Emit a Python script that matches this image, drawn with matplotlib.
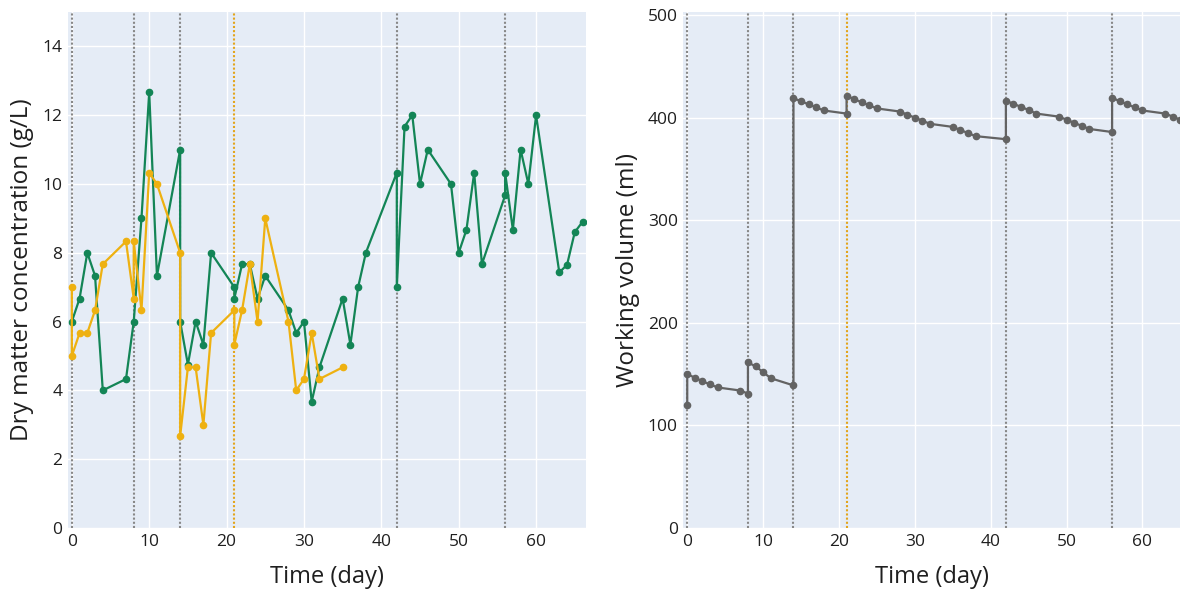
import matplotlib
matplotlib.use('Agg')
import matplotlib.pyplot as plt

# Данные: сухое вещество (два реактора) и рабочий объём
days_g = [0, 1, 2, 3, 4, 7, 8, 9, 10, 11, 14, 14, 15, 16, 17, 18, 21, 21, 22, 23,
          24, 25, 28, 29, 30, 31, 32, 35, 36, 37, 38, 42, 42, 43, 44, 45, 46, 49, 50, 51,
          52, 53, 56, 56, 57, 58, 59, 60, 63, 64, 65, 66]
vals_g = [6.0, 6.67, 8.0, 7.33, 4.0, 4.33, 6.0, 9.0, 12.67, 7.33, 11.0, 6.0, 4.75, 6.0, 5.33, 8.0, 7.0, 6.67, 7.67, 7.67,
          6.67, 7.33, 6.33, 5.67, 6.0, 3.67, 4.67, 6.67, 5.33, 7.0, 8.0, 10.33, 7.0, 11.67, 12.0, 10.0, 11.0, 10.0, 8.0, 8.67,
          10.33, 7.67, 9.67, 10.33, 8.67, 11.0, 10.0, 12.0, 7.43, 7.65, 8.6, 8.9]

days_y = [0, 0, 1, 2, 3, 4, 7, 8, 8, 9, 10, 11, 14, 14, 15, 16, 17, 18, 21, 21,
          22, 23, 24, 25, 28, 29, 30, 31, 32, 35]
vals_y = [7.0, 5.0, 5.67, 5.67, 6.33, 7.67, 8.33, 6.67, 8.33, 6.33, 10.33, 10.0, 8.0, 2.67, 4.67, 4.67, 3.0, 5.67, 6.33, 5.33,
          6.33, 7.67, 6.0, 9.0, 6.0, 4.0, 4.33, 5.67, 4.33, 4.67]

days_v = [0, 0, 1, 2, 3, 4, 7, 8, 8, 9, 10, 11, 14, 14, 15, 16, 17, 18, 21, 21,
          22, 23, 24, 25, 28, 29, 30, 31, 32, 35, 36, 37, 38, 42, 42, 43, 44, 45, 46, 49,
          50, 51, 52, 53, 56, 56, 57, 58, 59, 60, 63, 64, 65, 66]
vol = [120, 150, 146.5, 143, 140, 137, 134, 131, 161.5, 157.5, 152, 146, 139, 419, 416, 413, 410, 407, 404, 421.5,
       418, 415, 412, 409, 406, 403, 400, 397, 394, 391, 388, 385, 382, 379, 416.5, 413.5, 410.5, 407.5, 404, 401,
       398, 395, 392, 389, 386, 419.5, 416, 413, 410, 407, 404, 401, 398, 395]

gray_days = [0, 8, 14, 42, 56]
orange_days = [21]

plt.rcParams['font.family'] = ['Open Sans', 'DejaVu Sans']

BG = '#E5ECF6'
GREEN = '#138556'
YELLOW = '#EEB111'
LINE_GRAY = '#636363'
TXT = '#1f1f1f'

fig = plt.figure(figsize=(11.8, 5.89), dpi=100)
ax1 = fig.add_axes([0.0576, 0.1036, 0.439, 0.876])
ax2 = fig.add_axes([0.5792, 0.1036, 0.4208, 0.876])


def style(ax):
    ax.set_facecolor(BG)
    for s in ax.spines.values():
        s.set_visible(False)
    ax.grid(True, color='white', linewidth=1.0)
    ax.set_axisbelow(True)
    ax.tick_params(length=0, labelsize=12.5, colors=TXT, pad=4)
    for d in gray_days:
        ax.axvline(d, color='#888888', linestyle=(0, (1, 1)), linewidth=1.5, zorder=1)
    for d in orange_days:
        ax.axvline(d, color='#E3A51C', linestyle=(0, (1, 1)), linewidth=1.5, zorder=1)
    ax.set_xlabel('Time (day)', fontsize=17, color=TXT, labelpad=11)


# Левый график: концентрация сухого вещества
style(ax1)
ax1.plot(days_g, vals_g, '-o', color=GREEN, linewidth=1.6, markersize=4.5, zorder=3)
ax1.plot(days_y, vals_y, '-o', color=YELLOW, linewidth=1.6, markersize=4.5, zorder=4)
ax1.set_xlim(-0.5, 66.45)
ax1.set_ylim(0, 15)
ax1.set_yticks(range(0, 15, 2))
ax1.set_xticks(range(0, 61, 10))
ax1.set_ylabel('Dry matter concentration (g/L)', fontsize=17.5, color=TXT, labelpad=6)

# Правый график: рабочий объём
style(ax2)
ax2.plot(days_v, vol, '-o', color=LINE_GRAY, linewidth=1.6, markersize=4.5, zorder=3)
ax2.set_xlim(-0.5, 64.95)
ax2.set_ylim(0, 503)
ax2.set_yticks(range(0, 501, 100))
ax2.set_xticks(range(0, 61, 10))
ax2.set_ylabel('Working volume (ml)', fontsize=17.5, color=TXT, labelpad=6)

fig.savefig('out.png', dpi=100)
